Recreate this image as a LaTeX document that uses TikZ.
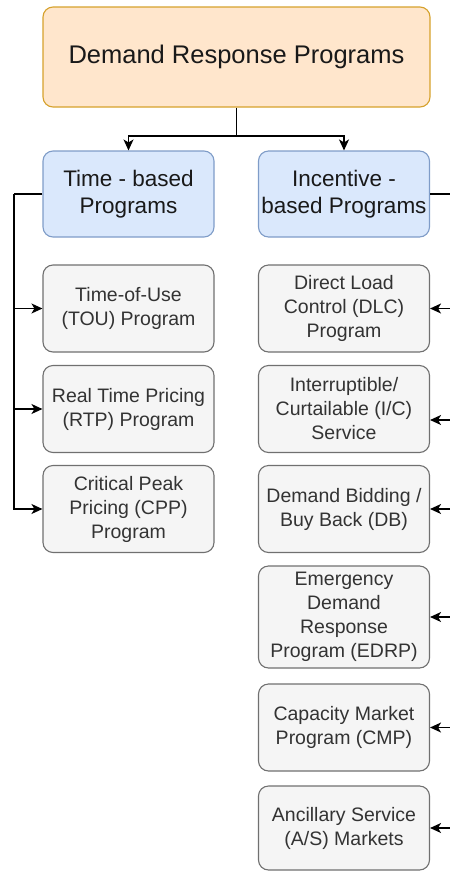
\documentclass[tikz,border=0pt]{standalone}
\usepackage{fontspec}
\setmainfont{Liberation Sans}
\usetikzlibrary{arrows.meta}
\definecolor{DROrange}{HTML}{FFE6CC}
\definecolor{DROrangeLine}{HTML}{D6A12C}
\definecolor{DRBlue}{HTML}{DAE8FC}
\definecolor{DRBlueLine}{HTML}{7F9CC8}
\definecolor{DRGrey}{HTML}{F5F5F5}
\definecolor{DRGreyLine}{HTML}{707070}
\definecolor{DRText}{HTML}{333333}

\begin{document}
\begin{tikzpicture}[x=1pt,y=-1pt,
  rootbox/.style={draw=DROrangeLine,fill=DROrange,line width=1.1pt,rounded corners=10pt,
    minimum width=387pt,minimum height=100pt,text=black!90,align=center,
    font=\fontsize{25.5}{30}\selectfont},
  groupbox/.style={draw=DRBlueLine,fill=DRBlue,line width=1.1pt,rounded corners=10pt,
    minimum width=171pt,minimum height=86pt,inner sep=1pt,text=black!90,align=center,
    font=\fontsize{22.5}{27.5}\selectfont},
  progbox/.style={draw=DRGreyLine,fill=DRGrey,line width=1.1pt,rounded corners=10pt,
    minimum width=171pt,minimum height=87pt,inner sep=1pt,text=DRText,align=center,
    font=\fontsize{19.5}{24}\selectfont},
  link/.style={line width=1.4pt,-{Stealth[length=11pt,width=10pt,inset=3pt]}}]
\useasboundingbox (0,0) rectangle (450,871);
\node[rootbox] (drp) at (236.5,57) {Demand Response Programs};
\node[groupbox] (tbp) at (128.5,194) {Time - based\\Programs};
\node[groupbox] (ibp) at (344,194) {Incentive -\\based Programs};
\node[progbox] (tou) at (128.5,308.5) {Time-of-Use\\(TOU) Program};
\node[progbox] (rtp) at (128.5,409) {Real Time Pricing\\(RTP) Program};
\node[progbox] (cpp) at (128.5,509) {Critical Peak\\Pricing (CPP)\\Program};
\node[progbox] (dlc) at (344,308.5) {Direct Load\\Control (DLC)\\Program};
\node[progbox] (ics) at (344,409) {Interruptible/\\Curtailable (I/C)\\Service};
\node[progbox] (dbb) at (344,509) {Demand Bidding /\\Buy Back (DB)};
\node[progbox,minimum height=102pt] (edrp) at (344,617) {Emergency\\Demand\\Response\\Program (EDRP)};
\node[progbox] (cmp) at (344,727.5) {Capacity Market\\Program (CMP)};
\node[progbox,minimum height=84pt] (asm) at (344,828) {Ancillary Service\\(A/S) Markets};
\coordinate (split) at (236.5,136);
\coordinate (lbus) at (14,194);
\coordinate (rbus) at (462,194);
\draw[line width=1.4pt] (drp.south) -- (split);
\draw[link] (split) -| (tbp.north);
\draw[link] (split) -| (ibp.north);
\draw[line width=1.4pt] (tbp.west) -- (lbus);
\draw[link] (lbus) |- (tou.west);
\draw[link] (lbus) |- (rtp.west);
\draw[link] (lbus) |- (cpp.west);
\draw[line width=1.4pt] (ibp.east) -- (rbus);
\draw[link] (rbus) |- (dlc.east);
\draw[link] (rbus) |- ([yshift=-11pt]ics.east);
\draw[link] (rbus) |- (dbb.east);
\draw[link] (rbus) |- (edrp.east);
\draw[link] (rbus) |- (cmp.east);
\draw[link] (rbus) |- (asm.east);
\end{tikzpicture}
\end{document}
